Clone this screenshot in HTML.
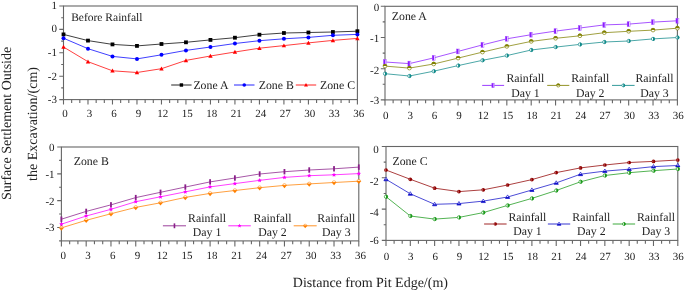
<!DOCTYPE html>
<html><head><meta charset="utf-8"><style>
html,body{margin:0;padding:0;background:#fff;}
body{width:685px;height:292px;overflow:hidden;}
svg{display:block;}
#w{width:685px;height:292px;will-change:transform;}
text{text-rendering:geometricPrecision;}
.t{font-family:"Liberation Serif", serif;font-size:11.0px;fill:#222;}
.l{font-family:"Liberation Serif", serif;font-size:11.8px;fill:#222;}
.a{font-family:"Liberation Serif", serif;font-size:14px;fill:#222;}
</style></head><body>
<div id="w"><svg width="685" height="292" viewBox="0 0 685 292">
<rect width="685" height="292" fill="#fff"/>
<g>
<rect x="63.5" y="6" width="293.9" height="93.6" fill="none" stroke="#666" stroke-width="1.1"/>
<path d="M63.5 99.6v5 M71.66 99.6v3.3 M79.83 99.6v3.3 M87.99 99.6v5 M96.16 99.6v3.3 M104.32 99.6v3.3 M112.48 99.6v5 M120.65 99.6v3.3 M128.81 99.6v3.3 M136.97 99.6v5 M145.14 99.6v3.3 M153.3 99.6v3.3 M161.47 99.6v5 M169.63 99.6v3.3 M177.79 99.6v3.3 M185.96 99.6v5 M194.12 99.6v3.3 M202.29 99.6v3.3 M210.45 99.6v5 M218.61 99.6v3.3 M226.78 99.6v3.3 M234.94 99.6v5 M243.11 99.6v3.3 M251.27 99.6v3.3 M259.43 99.6v5 M267.6 99.6v3.3 M275.76 99.6v3.3 M283.92 99.6v5 M292.09 99.6v3.3 M300.25 99.6v3.3 M308.42 99.6v5 M316.58 99.6v3.3 M324.74 99.6v3.3 M332.91 99.6v5 M341.07 99.6v3.3 M349.24 99.6v3.3 M357.4 99.6v5 M63.5 6h-4.2 M63.5 17.7h-2.3 M63.5 29.4h-4.2 M63.5 41.1h-2.3 M63.5 52.8h-4.2 M63.5 64.5h-2.3 M63.5 76.2h-4.2 M63.5 87.9h-2.3 M63.5 99.6h-4.2" stroke="#666" stroke-width="1.1" fill="none"/>
<text x="64.9" y="116.7" text-anchor="middle" class="t">0</text>
<text x="89.39" y="116.7" text-anchor="middle" class="t">3</text>
<text x="113.88" y="116.7" text-anchor="middle" class="t">6</text>
<text x="138.38" y="116.7" text-anchor="middle" class="t">9</text>
<text x="162.87" y="116.7" text-anchor="middle" class="t">12</text>
<text x="187.36" y="116.7" text-anchor="middle" class="t">15</text>
<text x="211.85" y="116.7" text-anchor="middle" class="t">18</text>
<text x="236.34" y="116.7" text-anchor="middle" class="t">21</text>
<text x="260.83" y="116.7" text-anchor="middle" class="t">24</text>
<text x="285.32" y="116.7" text-anchor="middle" class="t">27</text>
<text x="309.82" y="116.7" text-anchor="middle" class="t">30</text>
<text x="334.31" y="116.7" text-anchor="middle" class="t">33</text>
<text x="358.8" y="116.7" text-anchor="middle" class="t">36</text>
<text x="57" y="8.9" text-anchor="end" class="t">1</text>
<text x="57" y="32" text-anchor="end" class="t">0</text>
<text x="57" y="55.6" text-anchor="end" class="t">-1</text>
<text x="57" y="80.3" text-anchor="end" class="t">-2</text>
<text x="57" y="103.3" text-anchor="end" class="t">-3</text>
<rect x="385" y="6.3" width="292.4" height="93.6" fill="none" stroke="#666" stroke-width="1.1"/>
<path d="M385 99.9v5.5 M393.12 99.9v3.3 M401.24 99.9v3.3 M409.37 99.9v5.5 M417.49 99.9v3.3 M425.61 99.9v3.3 M433.73 99.9v5.5 M441.86 99.9v3.3 M449.98 99.9v3.3 M458.1 99.9v5.5 M466.22 99.9v3.3 M474.34 99.9v3.3 M482.47 99.9v5.5 M490.59 99.9v3.3 M498.71 99.9v3.3 M506.83 99.9v5.5 M514.96 99.9v3.3 M523.08 99.9v3.3 M531.2 99.9v5.5 M539.32 99.9v3.3 M547.44 99.9v3.3 M555.57 99.9v5.5 M563.69 99.9v3.3 M571.81 99.9v3.3 M579.93 99.9v5.5 M588.06 99.9v3.3 M596.18 99.9v3.3 M604.3 99.9v5.5 M612.42 99.9v3.3 M620.54 99.9v3.3 M628.67 99.9v5.5 M636.79 99.9v3.3 M644.91 99.9v3.3 M653.03 99.9v5.5 M661.16 99.9v3.3 M669.28 99.9v3.3 M677.4 99.9v5.5 M385 6.3h-4.2 M385 21.9h-2.3 M385 37.5h-4.2 M385 53.1h-2.3 M385 68.7h-4.2 M385 84.3h-2.3 M385 99.9h-4.2" stroke="#666" stroke-width="1.1" fill="none"/>
<text x="385.8" y="119.1" text-anchor="middle" class="t">0</text>
<text x="410.17" y="119.1" text-anchor="middle" class="t">3</text>
<text x="434.53" y="119.1" text-anchor="middle" class="t">6</text>
<text x="458.9" y="119.1" text-anchor="middle" class="t">9</text>
<text x="483.27" y="119.1" text-anchor="middle" class="t">12</text>
<text x="507.63" y="119.1" text-anchor="middle" class="t">15</text>
<text x="532" y="119.1" text-anchor="middle" class="t">18</text>
<text x="556.37" y="119.1" text-anchor="middle" class="t">21</text>
<text x="580.73" y="119.1" text-anchor="middle" class="t">24</text>
<text x="605.1" y="119.1" text-anchor="middle" class="t">27</text>
<text x="629.47" y="119.1" text-anchor="middle" class="t">30</text>
<text x="653.83" y="119.1" text-anchor="middle" class="t">33</text>
<text x="678.2" y="119.1" text-anchor="middle" class="t">36</text>
<text x="379.2" y="10.5" text-anchor="end" class="t">0</text>
<text x="379.2" y="42.4" text-anchor="end" class="t">-1</text>
<text x="379.2" y="73.9" text-anchor="end" class="t">-2</text>
<text x="379.2" y="104.2" text-anchor="end" class="t">-3</text>
<rect x="61.4" y="147" width="297.4" height="93.9" fill="none" stroke="#666" stroke-width="1.1"/>
<path d="M61.4 240.9v5.5 M69.66 240.9v3.3 M77.92 240.9v3.3 M86.18 240.9v5.5 M94.44 240.9v3.3 M102.71 240.9v3.3 M110.97 240.9v5.5 M119.23 240.9v3.3 M127.49 240.9v3.3 M135.75 240.9v5.5 M144.01 240.9v3.3 M152.27 240.9v3.3 M160.53 240.9v5.5 M168.79 240.9v3.3 M177.06 240.9v3.3 M185.32 240.9v5.5 M193.58 240.9v3.3 M201.84 240.9v3.3 M210.1 240.9v5.5 M218.36 240.9v3.3 M226.62 240.9v3.3 M234.88 240.9v5.5 M243.14 240.9v3.3 M251.41 240.9v3.3 M259.67 240.9v5.5 M267.93 240.9v3.3 M276.19 240.9v3.3 M284.45 240.9v5.5 M292.71 240.9v3.3 M300.97 240.9v3.3 M309.23 240.9v5.5 M317.49 240.9v3.3 M325.76 240.9v3.3 M334.02 240.9v5.5 M342.28 240.9v3.3 M350.54 240.9v3.3 M358.8 240.9v5.5 M61.4 147h-4.2 M61.4 160.41h-2.3 M61.4 173.83h-4.2 M61.4 187.24h-2.3 M61.4 200.66h-4.2 M61.4 214.07h-2.3 M61.4 227.49h-4.2 M61.4 240.9h-2.3" stroke="#666" stroke-width="1.1" fill="none"/>
<text x="63.2" y="259.3" text-anchor="middle" class="t">0</text>
<text x="87.98" y="259.3" text-anchor="middle" class="t">3</text>
<text x="112.77" y="259.3" text-anchor="middle" class="t">6</text>
<text x="137.55" y="259.3" text-anchor="middle" class="t">9</text>
<text x="162.33" y="259.3" text-anchor="middle" class="t">12</text>
<text x="187.12" y="259.3" text-anchor="middle" class="t">15</text>
<text x="211.9" y="259.3" text-anchor="middle" class="t">18</text>
<text x="236.68" y="259.3" text-anchor="middle" class="t">21</text>
<text x="261.47" y="259.3" text-anchor="middle" class="t">24</text>
<text x="286.25" y="259.3" text-anchor="middle" class="t">27</text>
<text x="311.03" y="259.3" text-anchor="middle" class="t">30</text>
<text x="335.82" y="259.3" text-anchor="middle" class="t">33</text>
<text x="360.6" y="259.3" text-anchor="middle" class="t">36</text>
<text x="54.6" y="151.35" text-anchor="end" class="t">0</text>
<text x="54.6" y="178.05" text-anchor="end" class="t">-1</text>
<text x="54.6" y="204.8" text-anchor="end" class="t">-2</text>
<text x="54.6" y="231.1" text-anchor="end" class="t">-3</text>
<rect x="386" y="146.5" width="291.8" height="93.9" fill="none" stroke="#666" stroke-width="1.1"/>
<path d="M386 240.4v5.5 M394.11 240.4v3.3 M402.21 240.4v3.3 M410.32 240.4v5.5 M418.42 240.4v3.3 M426.53 240.4v3.3 M434.63 240.4v5.5 M442.74 240.4v3.3 M450.84 240.4v3.3 M458.95 240.4v5.5 M467.06 240.4v3.3 M475.16 240.4v3.3 M483.27 240.4v5.5 M491.37 240.4v3.3 M499.48 240.4v3.3 M507.58 240.4v5.5 M515.69 240.4v3.3 M523.79 240.4v3.3 M531.9 240.4v5.5 M540.01 240.4v3.3 M548.11 240.4v3.3 M556.22 240.4v5.5 M564.32 240.4v3.3 M572.43 240.4v3.3 M580.53 240.4v5.5 M588.64 240.4v3.3 M596.74 240.4v3.3 M604.85 240.4v5.5 M612.96 240.4v3.3 M621.06 240.4v3.3 M629.17 240.4v5.5 M637.27 240.4v3.3 M645.38 240.4v3.3 M653.48 240.4v5.5 M661.59 240.4v3.3 M669.69 240.4v3.3 M677.8 240.4v5.5 M386 146.5h-4.2 M386 162.15h-2.3 M386 177.8h-4.2 M386 193.45h-2.3 M386 209.1h-4.2 M386 224.75h-2.3 M386 240.4h-4.2" stroke="#666" stroke-width="1.1" fill="none"/>
<text x="386.5" y="260.2" text-anchor="middle" class="t">0</text>
<text x="410.82" y="260.2" text-anchor="middle" class="t">3</text>
<text x="435.13" y="260.2" text-anchor="middle" class="t">6</text>
<text x="459.45" y="260.2" text-anchor="middle" class="t">9</text>
<text x="483.77" y="260.2" text-anchor="middle" class="t">12</text>
<text x="508.08" y="260.2" text-anchor="middle" class="t">15</text>
<text x="532.4" y="260.2" text-anchor="middle" class="t">18</text>
<text x="556.72" y="260.2" text-anchor="middle" class="t">21</text>
<text x="581.03" y="260.2" text-anchor="middle" class="t">24</text>
<text x="605.35" y="260.2" text-anchor="middle" class="t">27</text>
<text x="629.67" y="260.2" text-anchor="middle" class="t">30</text>
<text x="653.98" y="260.2" text-anchor="middle" class="t">33</text>
<text x="678.3" y="260.2" text-anchor="middle" class="t">36</text>
<text x="378.8" y="152.7" text-anchor="end" class="t">0</text>
<text x="378.8" y="184.6" text-anchor="end" class="t">-2</text>
<text x="378.8" y="216.3" text-anchor="end" class="t">-4</text>
<text x="378.8" y="244.3" text-anchor="end" class="t">-6</text>
<polyline points="63.5,34.4 87.99,40.6 112.48,44.4 136.97,45.9 161.47,44 185.96,42.3 210.45,39.9 234.94,37.7 259.43,34.7 283.92,33 308.42,32.5 332.91,32 357.4,31.2" fill="none" stroke="#000" stroke-width="1" stroke-opacity="0.75"/>
<rect x="61.6" y="32.5" width="3.8" height="3.8" fill="#000"/>
<rect x="86.09" y="38.7" width="3.8" height="3.8" fill="#000"/>
<rect x="110.58" y="42.5" width="3.8" height="3.8" fill="#000"/>
<rect x="135.07" y="44" width="3.8" height="3.8" fill="#000"/>
<rect x="159.57" y="42.1" width="3.8" height="3.8" fill="#000"/>
<rect x="184.06" y="40.4" width="3.8" height="3.8" fill="#000"/>
<rect x="208.55" y="38" width="3.8" height="3.8" fill="#000"/>
<rect x="233.04" y="35.8" width="3.8" height="3.8" fill="#000"/>
<rect x="257.53" y="32.8" width="3.8" height="3.8" fill="#000"/>
<rect x="282.02" y="31.1" width="3.8" height="3.8" fill="#000"/>
<rect x="306.52" y="30.6" width="3.8" height="3.8" fill="#000"/>
<rect x="331.01" y="30.1" width="3.8" height="3.8" fill="#000"/>
<rect x="355.5" y="29.3" width="3.8" height="3.8" fill="#000"/>
<polyline points="63.5,38.2 87.99,48.7 112.48,56.4 136.97,58.9 161.47,54.8 185.96,50.4 210.45,47 234.94,43.5 259.43,40.7 283.92,38.8 308.42,37.4 332.91,35.3 357.4,34.4" fill="none" stroke="#00f" stroke-width="1" stroke-opacity="0.75"/>
<circle cx="63.5" cy="38.2" r="2" fill="#00f"/>
<circle cx="87.99" cy="48.7" r="2" fill="#00f"/>
<circle cx="112.48" cy="56.4" r="2" fill="#00f"/>
<circle cx="136.97" cy="58.9" r="2" fill="#00f"/>
<circle cx="161.47" cy="54.8" r="2" fill="#00f"/>
<circle cx="185.96" cy="50.4" r="2" fill="#00f"/>
<circle cx="210.45" cy="47" r="2" fill="#00f"/>
<circle cx="234.94" cy="43.5" r="2" fill="#00f"/>
<circle cx="259.43" cy="40.7" r="2" fill="#00f"/>
<circle cx="283.92" cy="38.8" r="2" fill="#00f"/>
<circle cx="308.42" cy="37.4" r="2" fill="#00f"/>
<circle cx="332.91" cy="35.3" r="2" fill="#00f"/>
<circle cx="357.4" cy="34.4" r="2" fill="#00f"/>
<polyline points="63.5,47 87.99,61.7 112.48,70.8 136.97,72.5 161.47,68.7 185.96,60.4 210.45,56 234.94,52 259.43,48.2 283.92,45.6 308.42,42.9 332.91,40.4 357.4,38.4" fill="none" stroke="#f00" stroke-width="1" stroke-opacity="0.75"/>
<path d="M63.5 44.8L65.7 48.76L61.3 48.76Z" fill="#f00"/>
<path d="M87.99 59.5L90.19 63.46L85.79 63.46Z" fill="#f00"/>
<path d="M112.48 68.6L114.68 72.56L110.28 72.56Z" fill="#f00"/>
<path d="M136.97 70.3L139.17 74.26L134.78 74.26Z" fill="#f00"/>
<path d="M161.47 66.5L163.67 70.46L159.27 70.46Z" fill="#f00"/>
<path d="M185.96 58.2L188.16 62.16L183.76 62.16Z" fill="#f00"/>
<path d="M210.45 53.8L212.65 57.76L208.25 57.76Z" fill="#f00"/>
<path d="M234.94 49.8L237.14 53.76L232.74 53.76Z" fill="#f00"/>
<path d="M259.43 46L261.63 49.96L257.23 49.96Z" fill="#f00"/>
<path d="M283.92 43.4L286.12 47.36L281.72 47.36Z" fill="#f00"/>
<path d="M308.42 40.7L310.62 44.66L306.22 44.66Z" fill="#f00"/>
<path d="M332.91 38.2L335.11 42.16L330.71 42.16Z" fill="#f00"/>
<path d="M357.4 36.2L359.6 40.16L355.2 40.16Z" fill="#f00"/>
<polyline points="385,62 409.37,63.6 433.73,57.9 458.1,51.4 482.47,44.9 506.83,38.8 531.2,34.7 555.57,31.1 579.93,28 604.3,24.9 628.67,24.1 653.03,22.1 677.4,20.8" fill="none" stroke="#8a1cff" stroke-width="1" stroke-opacity="0.75"/>
<rect x="383.55" y="59.6" width="2.9" height="4.8" fill="#fff" stroke="#8a1cff" stroke-width="0.6" stroke-opacity="0.6"/><rect x="383.55" y="59.6" width="1.89" height="4.8" fill="#8a1cff"/>
<rect x="407.92" y="61.2" width="2.9" height="4.8" fill="#fff" stroke="#8a1cff" stroke-width="0.6" stroke-opacity="0.6"/><rect x="407.92" y="61.2" width="1.89" height="4.8" fill="#8a1cff"/>
<rect x="432.28" y="55.5" width="2.9" height="4.8" fill="#fff" stroke="#8a1cff" stroke-width="0.6" stroke-opacity="0.6"/><rect x="432.28" y="55.5" width="1.89" height="4.8" fill="#8a1cff"/>
<rect x="456.65" y="49" width="2.9" height="4.8" fill="#fff" stroke="#8a1cff" stroke-width="0.6" stroke-opacity="0.6"/><rect x="456.65" y="49" width="1.89" height="4.8" fill="#8a1cff"/>
<rect x="481.02" y="42.5" width="2.9" height="4.8" fill="#fff" stroke="#8a1cff" stroke-width="0.6" stroke-opacity="0.6"/><rect x="481.02" y="42.5" width="1.89" height="4.8" fill="#8a1cff"/>
<rect x="505.38" y="36.4" width="2.9" height="4.8" fill="#fff" stroke="#8a1cff" stroke-width="0.6" stroke-opacity="0.6"/><rect x="505.38" y="36.4" width="1.89" height="4.8" fill="#8a1cff"/>
<rect x="529.75" y="32.3" width="2.9" height="4.8" fill="#fff" stroke="#8a1cff" stroke-width="0.6" stroke-opacity="0.6"/><rect x="529.75" y="32.3" width="1.89" height="4.8" fill="#8a1cff"/>
<rect x="554.12" y="28.7" width="2.9" height="4.8" fill="#fff" stroke="#8a1cff" stroke-width="0.6" stroke-opacity="0.6"/><rect x="554.12" y="28.7" width="1.89" height="4.8" fill="#8a1cff"/>
<rect x="578.48" y="25.6" width="2.9" height="4.8" fill="#fff" stroke="#8a1cff" stroke-width="0.6" stroke-opacity="0.6"/><rect x="578.48" y="25.6" width="1.89" height="4.8" fill="#8a1cff"/>
<rect x="602.85" y="22.5" width="2.9" height="4.8" fill="#fff" stroke="#8a1cff" stroke-width="0.6" stroke-opacity="0.6"/><rect x="602.85" y="22.5" width="1.89" height="4.8" fill="#8a1cff"/>
<rect x="627.22" y="21.7" width="2.9" height="4.8" fill="#fff" stroke="#8a1cff" stroke-width="0.6" stroke-opacity="0.6"/><rect x="627.22" y="21.7" width="1.89" height="4.8" fill="#8a1cff"/>
<rect x="651.58" y="19.7" width="2.9" height="4.8" fill="#fff" stroke="#8a1cff" stroke-width="0.6" stroke-opacity="0.6"/><rect x="651.58" y="19.7" width="1.89" height="4.8" fill="#8a1cff"/>
<rect x="675.95" y="18.4" width="2.9" height="4.8" fill="#fff" stroke="#8a1cff" stroke-width="0.6" stroke-opacity="0.6"/><rect x="675.95" y="18.4" width="1.89" height="4.8" fill="#8a1cff"/>
<polyline points="385,66.1 409.37,68.1 433.73,64 458.1,58.1 482.47,52.1 506.83,46.4 531.2,41.4 555.57,38.3 579.93,35.8 604.3,32.7 628.67,31.3 653.03,30.1 677.4,28.2" fill="none" stroke="#808000" stroke-width="1" stroke-opacity="0.75"/>
<circle cx="385" cy="66.1" r="1.85" fill="#fff" stroke="#808000" stroke-width="0.7"/><path d="M382.8 66.1A2.2 2.2 0 0 1 387.2 66.1Z" fill="#808000"/>
<circle cx="409.37" cy="68.1" r="1.85" fill="#fff" stroke="#808000" stroke-width="0.7"/><path d="M407.17 68.1A2.2 2.2 0 0 1 411.57 68.1Z" fill="#808000"/>
<circle cx="433.73" cy="64" r="1.85" fill="#fff" stroke="#808000" stroke-width="0.7"/><path d="M431.53 64A2.2 2.2 0 0 1 435.93 64Z" fill="#808000"/>
<circle cx="458.1" cy="58.1" r="1.85" fill="#fff" stroke="#808000" stroke-width="0.7"/><path d="M455.9 58.1A2.2 2.2 0 0 1 460.3 58.1Z" fill="#808000"/>
<circle cx="482.47" cy="52.1" r="1.85" fill="#fff" stroke="#808000" stroke-width="0.7"/><path d="M480.27 52.1A2.2 2.2 0 0 1 484.67 52.1Z" fill="#808000"/>
<circle cx="506.83" cy="46.4" r="1.85" fill="#fff" stroke="#808000" stroke-width="0.7"/><path d="M504.63 46.4A2.2 2.2 0 0 1 509.03 46.4Z" fill="#808000"/>
<circle cx="531.2" cy="41.4" r="1.85" fill="#fff" stroke="#808000" stroke-width="0.7"/><path d="M529 41.4A2.2 2.2 0 0 1 533.4 41.4Z" fill="#808000"/>
<circle cx="555.57" cy="38.3" r="1.85" fill="#fff" stroke="#808000" stroke-width="0.7"/><path d="M553.37 38.3A2.2 2.2 0 0 1 557.77 38.3Z" fill="#808000"/>
<circle cx="579.93" cy="35.8" r="1.85" fill="#fff" stroke="#808000" stroke-width="0.7"/><path d="M577.73 35.8A2.2 2.2 0 0 1 582.13 35.8Z" fill="#808000"/>
<circle cx="604.3" cy="32.7" r="1.85" fill="#fff" stroke="#808000" stroke-width="0.7"/><path d="M602.1 32.7A2.2 2.2 0 0 1 606.5 32.7Z" fill="#808000"/>
<circle cx="628.67" cy="31.3" r="1.85" fill="#fff" stroke="#808000" stroke-width="0.7"/><path d="M626.47 31.3A2.2 2.2 0 0 1 630.87 31.3Z" fill="#808000"/>
<circle cx="653.03" cy="30.1" r="1.85" fill="#fff" stroke="#808000" stroke-width="0.7"/><path d="M650.83 30.1A2.2 2.2 0 0 1 655.23 30.1Z" fill="#808000"/>
<circle cx="677.4" cy="28.2" r="1.85" fill="#fff" stroke="#808000" stroke-width="0.7"/><path d="M675.2 28.2A2.2 2.2 0 0 1 679.6 28.2Z" fill="#808000"/>
<polyline points="385,73.7 409.37,76 433.73,71.2 458.1,65.6 482.47,60.3 506.83,55.6 531.2,50 555.57,47.1 579.93,44.4 604.3,42 628.67,41 653.03,38.9 677.4,37.5" fill="none" stroke="#108a8a" stroke-width="1" stroke-opacity="0.75"/>
<circle cx="385" cy="73.7" r="1.65" fill="#fff" stroke="#108a8a" stroke-width="0.7"/><path d="M385 71.7A2 2 0 0 1 385 75.7Z" fill="#108a8a"/>
<circle cx="409.37" cy="76" r="1.65" fill="#fff" stroke="#108a8a" stroke-width="0.7"/><path d="M409.37 74A2 2 0 0 1 409.37 78Z" fill="#108a8a"/>
<circle cx="433.73" cy="71.2" r="1.65" fill="#fff" stroke="#108a8a" stroke-width="0.7"/><path d="M433.73 69.2A2 2 0 0 1 433.73 73.2Z" fill="#108a8a"/>
<circle cx="458.1" cy="65.6" r="1.65" fill="#fff" stroke="#108a8a" stroke-width="0.7"/><path d="M458.1 63.6A2 2 0 0 1 458.1 67.6Z" fill="#108a8a"/>
<circle cx="482.47" cy="60.3" r="1.65" fill="#fff" stroke="#108a8a" stroke-width="0.7"/><path d="M482.47 58.3A2 2 0 0 1 482.47 62.3Z" fill="#108a8a"/>
<circle cx="506.83" cy="55.6" r="1.65" fill="#fff" stroke="#108a8a" stroke-width="0.7"/><path d="M506.83 53.6A2 2 0 0 1 506.83 57.6Z" fill="#108a8a"/>
<circle cx="531.2" cy="50" r="1.65" fill="#fff" stroke="#108a8a" stroke-width="0.7"/><path d="M531.2 48A2 2 0 0 1 531.2 52Z" fill="#108a8a"/>
<circle cx="555.57" cy="47.1" r="1.65" fill="#fff" stroke="#108a8a" stroke-width="0.7"/><path d="M555.57 45.1A2 2 0 0 1 555.57 49.1Z" fill="#108a8a"/>
<circle cx="579.93" cy="44.4" r="1.65" fill="#fff" stroke="#108a8a" stroke-width="0.7"/><path d="M579.93 42.4A2 2 0 0 1 579.93 46.4Z" fill="#108a8a"/>
<circle cx="604.3" cy="42" r="1.65" fill="#fff" stroke="#108a8a" stroke-width="0.7"/><path d="M604.3 40A2 2 0 0 1 604.3 44Z" fill="#108a8a"/>
<circle cx="628.67" cy="41" r="1.65" fill="#fff" stroke="#108a8a" stroke-width="0.7"/><path d="M628.67 39A2 2 0 0 1 628.67 43Z" fill="#108a8a"/>
<circle cx="653.03" cy="38.9" r="1.65" fill="#fff" stroke="#108a8a" stroke-width="0.7"/><path d="M653.03 36.9A2 2 0 0 1 653.03 40.9Z" fill="#108a8a"/>
<circle cx="677.4" cy="37.5" r="1.65" fill="#fff" stroke="#108a8a" stroke-width="0.7"/><path d="M677.4 35.5A2 2 0 0 1 677.4 39.5Z" fill="#108a8a"/>
<polyline points="61.4,219.2 86.18,211.4 110.97,204.85 135.75,197.6 160.53,192.3 185.32,187.05 210.1,181.9 234.88,178 259.67,174 284.45,171.7 309.23,170 334.02,168.8 358.8,167.1" fill="none" stroke="#8a1f8a" stroke-width="1" stroke-opacity="0.75"/>
<rect x="60.5" y="216.5" width="1.8" height="5.4" fill="#8a1f8a"/>
<rect x="85.28" y="208.7" width="1.8" height="5.4" fill="#8a1f8a"/>
<rect x="110.07" y="202.15" width="1.8" height="5.4" fill="#8a1f8a"/>
<rect x="134.85" y="194.9" width="1.8" height="5.4" fill="#8a1f8a"/>
<rect x="159.63" y="189.6" width="1.8" height="5.4" fill="#8a1f8a"/>
<rect x="184.42" y="184.35" width="1.8" height="5.4" fill="#8a1f8a"/>
<rect x="209.2" y="179.2" width="1.8" height="5.4" fill="#8a1f8a"/>
<rect x="233.98" y="175.3" width="1.8" height="5.4" fill="#8a1f8a"/>
<rect x="258.77" y="171.3" width="1.8" height="5.4" fill="#8a1f8a"/>
<rect x="283.55" y="169" width="1.8" height="5.4" fill="#8a1f8a"/>
<rect x="308.33" y="167.3" width="1.8" height="5.4" fill="#8a1f8a"/>
<rect x="333.12" y="166.1" width="1.8" height="5.4" fill="#8a1f8a"/>
<rect x="357.9" y="164.4" width="1.8" height="5.4" fill="#8a1f8a"/>
<polyline points="61.4,224.2 86.18,216 110.97,209.3 135.75,201.7 160.53,196.8 185.32,191.85 210.1,186.9 234.88,183.6 259.67,180.35 284.45,177.4 309.23,175.7 334.02,174.8 358.8,173.6" fill="none" stroke="#ff00ff" stroke-width="1" stroke-opacity="0.75"/>
<path d="M61.4 221.9L62.05 223.31L63.59 223.49L62.45 224.54L62.75 226.06L61.4 225.3L60.05 226.06L60.35 224.54L59.21 223.49L60.75 223.31Z" fill="#ff00ff"/>
<path d="M86.18 213.7L86.83 215.11L88.37 215.29L87.23 216.34L87.54 217.86L86.18 217.1L84.83 217.86L85.14 216.34L84 215.29L85.54 215.11Z" fill="#ff00ff"/>
<path d="M110.97 207L111.61 208.41L113.15 208.59L112.01 209.64L112.32 211.16L110.97 210.4L109.61 211.16L109.92 209.64L108.78 208.59L110.32 208.41Z" fill="#ff00ff"/>
<path d="M135.75 199.4L136.4 200.81L137.94 200.99L136.8 202.04L137.1 203.56L135.75 202.8L134.4 203.56L134.7 202.04L133.56 200.99L135.1 200.81Z" fill="#ff00ff"/>
<path d="M160.53 194.5L161.18 195.91L162.72 196.09L161.58 197.14L161.89 198.66L160.53 197.9L159.18 198.66L159.49 197.14L158.35 196.09L159.89 195.91Z" fill="#ff00ff"/>
<path d="M185.32 189.55L185.96 190.96L187.5 191.14L186.36 192.19L186.67 193.71L185.32 192.95L183.96 193.71L184.27 192.19L183.13 191.14L184.67 190.96Z" fill="#ff00ff"/>
<path d="M210.1 184.6L210.75 186.01L212.29 186.19L211.15 187.24L211.45 188.76L210.1 188L208.75 188.76L209.05 187.24L207.91 186.19L209.45 186.01Z" fill="#ff00ff"/>
<path d="M234.88 181.3L235.53 182.71L237.07 182.89L235.93 183.94L236.24 185.46L234.88 184.7L233.53 185.46L233.84 183.94L232.7 182.89L234.24 182.71Z" fill="#ff00ff"/>
<path d="M259.67 178.05L260.31 179.46L261.85 179.64L260.71 180.69L261.02 182.21L259.67 181.45L258.31 182.21L258.62 180.69L257.48 179.64L259.02 179.46Z" fill="#ff00ff"/>
<path d="M284.45 175.1L285.1 176.51L286.64 176.69L285.5 177.74L285.8 179.26L284.45 178.5L283.1 179.26L283.4 177.74L282.26 176.69L283.8 176.51Z" fill="#ff00ff"/>
<path d="M309.23 173.4L309.88 174.81L311.42 174.99L310.28 176.04L310.59 177.56L309.23 176.8L307.88 177.56L308.19 176.04L307.05 174.99L308.59 174.81Z" fill="#ff00ff"/>
<path d="M334.02 172.5L334.66 173.91L336.2 174.09L335.06 175.14L335.37 176.66L334.02 175.9L332.66 176.66L332.97 175.14L331.83 174.09L333.37 173.91Z" fill="#ff00ff"/>
<path d="M358.8 171.3L359.45 172.71L360.99 172.89L359.85 173.94L360.15 175.46L358.8 174.7L357.45 175.46L357.75 173.94L356.61 172.89L358.15 172.71Z" fill="#ff00ff"/>
<polyline points="61.4,227.9 86.18,220.3 110.97,213.75 135.75,207.4 160.53,202.8 185.32,197.4 210.1,193.4 234.88,190.5 259.67,187.7 284.45,185.4 309.23,183.9 334.02,182.5 358.8,181.2" fill="none" stroke="#ff8000" stroke-width="1" stroke-opacity="0.75"/>
<path d="M59.6 227.9A1.8 1.8 0 0 1 63.2 227.9Z" fill="#fff" stroke="#ff8000" stroke-width="0.55"/><path d="M58.9 227.7L63.9 227.7L61.4 230.65Z" fill="#ff8000"/>
<path d="M84.38 220.3A1.8 1.8 0 0 1 87.98 220.3Z" fill="#fff" stroke="#ff8000" stroke-width="0.55"/><path d="M83.68 220.1L88.68 220.1L86.18 223.05Z" fill="#ff8000"/>
<path d="M109.17 213.75A1.8 1.8 0 0 1 112.77 213.75Z" fill="#fff" stroke="#ff8000" stroke-width="0.55"/><path d="M108.47 213.55L113.47 213.55L110.97 216.5Z" fill="#ff8000"/>
<path d="M133.95 207.4A1.8 1.8 0 0 1 137.55 207.4Z" fill="#fff" stroke="#ff8000" stroke-width="0.55"/><path d="M133.25 207.2L138.25 207.2L135.75 210.15Z" fill="#ff8000"/>
<path d="M158.73 202.8A1.8 1.8 0 0 1 162.33 202.8Z" fill="#fff" stroke="#ff8000" stroke-width="0.55"/><path d="M158.03 202.6L163.03 202.6L160.53 205.55Z" fill="#ff8000"/>
<path d="M183.52 197.4A1.8 1.8 0 0 1 187.12 197.4Z" fill="#fff" stroke="#ff8000" stroke-width="0.55"/><path d="M182.82 197.2L187.82 197.2L185.32 200.15Z" fill="#ff8000"/>
<path d="M208.3 193.4A1.8 1.8 0 0 1 211.9 193.4Z" fill="#fff" stroke="#ff8000" stroke-width="0.55"/><path d="M207.6 193.2L212.6 193.2L210.1 196.15Z" fill="#ff8000"/>
<path d="M233.08 190.5A1.8 1.8 0 0 1 236.68 190.5Z" fill="#fff" stroke="#ff8000" stroke-width="0.55"/><path d="M232.38 190.3L237.38 190.3L234.88 193.25Z" fill="#ff8000"/>
<path d="M257.87 187.7A1.8 1.8 0 0 1 261.47 187.7Z" fill="#fff" stroke="#ff8000" stroke-width="0.55"/><path d="M257.17 187.5L262.17 187.5L259.67 190.45Z" fill="#ff8000"/>
<path d="M282.65 185.4A1.8 1.8 0 0 1 286.25 185.4Z" fill="#fff" stroke="#ff8000" stroke-width="0.55"/><path d="M281.95 185.2L286.95 185.2L284.45 188.15Z" fill="#ff8000"/>
<path d="M307.43 183.9A1.8 1.8 0 0 1 311.03 183.9Z" fill="#fff" stroke="#ff8000" stroke-width="0.55"/><path d="M306.73 183.7L311.73 183.7L309.23 186.65Z" fill="#ff8000"/>
<path d="M332.22 182.5A1.8 1.8 0 0 1 335.82 182.5Z" fill="#fff" stroke="#ff8000" stroke-width="0.55"/><path d="M331.52 182.3L336.52 182.3L334.02 185.25Z" fill="#ff8000"/>
<path d="M357 181.2A1.8 1.8 0 0 1 360.6 181.2Z" fill="#fff" stroke="#ff8000" stroke-width="0.55"/><path d="M356.3 181L361.3 181L358.8 183.95Z" fill="#ff8000"/>
<polyline points="386,170 410.32,179.3 434.63,188.2 458.95,191.6 483.27,189.8 507.58,185 531.9,179.6 556.22,172.6 580.53,167.9 604.85,165 629.17,162.5 653.48,161.4 677.8,160" fill="none" stroke="#900000" stroke-width="1" stroke-opacity="0.75"/>
<circle cx="386" cy="170" r="1.85" fill="#900000"/><path d="M385.8 168.34A1.85 1.85 0 0 0 385.8 171.66" fill="#fff" fill-opacity="0.35"/>
<circle cx="410.32" cy="179.3" r="1.85" fill="#900000"/><path d="M410.12 177.64A1.85 1.85 0 0 0 410.12 180.97" fill="#fff" fill-opacity="0.35"/>
<circle cx="434.63" cy="188.2" r="1.85" fill="#900000"/><path d="M434.43 186.53A1.85 1.85 0 0 0 434.43 189.86" fill="#fff" fill-opacity="0.35"/>
<circle cx="458.95" cy="191.6" r="1.85" fill="#900000"/><path d="M458.75 189.94A1.85 1.85 0 0 0 458.75 193.26" fill="#fff" fill-opacity="0.35"/>
<circle cx="483.27" cy="189.8" r="1.85" fill="#900000"/><path d="M483.07 188.14A1.85 1.85 0 0 0 483.07 191.47" fill="#fff" fill-opacity="0.35"/>
<circle cx="507.58" cy="185" r="1.85" fill="#900000"/><path d="M507.38 183.34A1.85 1.85 0 0 0 507.38 186.66" fill="#fff" fill-opacity="0.35"/>
<circle cx="531.9" cy="179.6" r="1.85" fill="#900000"/><path d="M531.7 177.94A1.85 1.85 0 0 0 531.7 181.26" fill="#fff" fill-opacity="0.35"/>
<circle cx="556.22" cy="172.6" r="1.85" fill="#900000"/><path d="M556.02 170.94A1.85 1.85 0 0 0 556.02 174.26" fill="#fff" fill-opacity="0.35"/>
<circle cx="580.53" cy="167.9" r="1.85" fill="#900000"/><path d="M580.33 166.24A1.85 1.85 0 0 0 580.33 169.56" fill="#fff" fill-opacity="0.35"/>
<circle cx="604.85" cy="165" r="1.85" fill="#900000"/><path d="M604.65 163.34A1.85 1.85 0 0 0 604.65 166.66" fill="#fff" fill-opacity="0.35"/>
<circle cx="629.17" cy="162.5" r="1.85" fill="#900000"/><path d="M628.97 160.84A1.85 1.85 0 0 0 628.97 164.16" fill="#fff" fill-opacity="0.35"/>
<circle cx="653.48" cy="161.4" r="1.85" fill="#900000"/><path d="M653.28 159.74A1.85 1.85 0 0 0 653.28 163.06" fill="#fff" fill-opacity="0.35"/>
<circle cx="677.8" cy="160" r="1.85" fill="#900000"/><path d="M677.6 158.34A1.85 1.85 0 0 0 677.6 161.66" fill="#fff" fill-opacity="0.35"/>
<polyline points="386,179.3 410.32,193.8 434.63,204.3 458.95,203.6 483.27,201.1 507.58,197 531.9,190 556.22,182.9 580.53,174.2 604.85,171.1 629.17,169.2 653.48,166.6 677.8,165.5" fill="none" stroke="#1010c8" stroke-width="1" stroke-opacity="0.75"/>
<path d="M386 177.2L388.1 180.77L383.9 180.77Z" fill="#fff" stroke="#1010c8" stroke-width="0.7"/><path d="M384.43 179.2L387.57 179.2L388.1 180.77L383.9 180.77Z" fill="#1010c8"/>
<path d="M410.32 191.7L412.42 195.27L408.22 195.27Z" fill="#fff" stroke="#1010c8" stroke-width="0.7"/><path d="M408.74 193.7L411.89 193.7L412.42 195.27L408.22 195.27Z" fill="#1010c8"/>
<path d="M434.63 202.2L436.73 205.77L432.53 205.77Z" fill="#fff" stroke="#1010c8" stroke-width="0.7"/><path d="M433.06 204.2L436.21 204.2L436.73 205.77L432.53 205.77Z" fill="#1010c8"/>
<path d="M458.95 201.5L461.05 205.07L456.85 205.07Z" fill="#fff" stroke="#1010c8" stroke-width="0.7"/><path d="M457.38 203.5L460.52 203.5L461.05 205.07L456.85 205.07Z" fill="#1010c8"/>
<path d="M483.27 199L485.37 202.57L481.17 202.57Z" fill="#fff" stroke="#1010c8" stroke-width="0.7"/><path d="M481.69 201L484.84 201L485.37 202.57L481.17 202.57Z" fill="#1010c8"/>
<path d="M507.58 194.9L509.68 198.47L505.48 198.47Z" fill="#fff" stroke="#1010c8" stroke-width="0.7"/><path d="M506.01 196.9L509.16 196.9L509.68 198.47L505.48 198.47Z" fill="#1010c8"/>
<path d="M531.9 187.9L534 191.47L529.8 191.47Z" fill="#fff" stroke="#1010c8" stroke-width="0.7"/><path d="M530.32 189.9L533.48 189.9L534 191.47L529.8 191.47Z" fill="#1010c8"/>
<path d="M556.22 180.8L558.32 184.37L554.12 184.37Z" fill="#fff" stroke="#1010c8" stroke-width="0.7"/><path d="M554.64 182.8L557.79 182.8L558.32 184.37L554.12 184.37Z" fill="#1010c8"/>
<path d="M580.53 172.1L582.63 175.67L578.43 175.67Z" fill="#fff" stroke="#1010c8" stroke-width="0.7"/><path d="M578.96 174.1L582.11 174.1L582.63 175.67L578.43 175.67Z" fill="#1010c8"/>
<path d="M604.85 169L606.95 172.57L602.75 172.57Z" fill="#fff" stroke="#1010c8" stroke-width="0.7"/><path d="M603.27 171L606.42 171L606.95 172.57L602.75 172.57Z" fill="#1010c8"/>
<path d="M629.17 167.1L631.27 170.67L627.07 170.67Z" fill="#fff" stroke="#1010c8" stroke-width="0.7"/><path d="M627.59 169.1L630.74 169.1L631.27 170.67L627.07 170.67Z" fill="#1010c8"/>
<path d="M653.48 164.5L655.58 168.07L651.38 168.07Z" fill="#fff" stroke="#1010c8" stroke-width="0.7"/><path d="M651.91 166.5L655.06 166.5L655.58 168.07L651.38 168.07Z" fill="#1010c8"/>
<path d="M677.8 163.4L679.9 166.97L675.7 166.97Z" fill="#fff" stroke="#1010c8" stroke-width="0.7"/><path d="M676.22 165.4L679.38 165.4L679.9 166.97L675.7 166.97Z" fill="#1010c8"/>
<polyline points="386,196.7 410.32,216 434.63,219.1 458.95,217.4 483.27,212.6 507.58,205.4 531.9,198.4 556.22,190.5 580.53,181.8 604.85,175.5 629.17,172.7 653.48,170.7 677.8,169" fill="none" stroke="#1a9a1a" stroke-width="1" stroke-opacity="0.75"/>
<circle cx="386" cy="196.7" r="1.65" fill="#fff" stroke="#1a9a1a" stroke-width="0.7"/><path d="M386 194.7A2 2 0 0 1 386 198.7Z" fill="#1a9a1a"/>
<circle cx="410.32" cy="216" r="1.65" fill="#fff" stroke="#1a9a1a" stroke-width="0.7"/><path d="M410.32 214A2 2 0 0 1 410.32 218Z" fill="#1a9a1a"/>
<circle cx="434.63" cy="219.1" r="1.65" fill="#fff" stroke="#1a9a1a" stroke-width="0.7"/><path d="M434.63 217.1A2 2 0 0 1 434.63 221.1Z" fill="#1a9a1a"/>
<circle cx="458.95" cy="217.4" r="1.65" fill="#fff" stroke="#1a9a1a" stroke-width="0.7"/><path d="M458.95 215.4A2 2 0 0 1 458.95 219.4Z" fill="#1a9a1a"/>
<circle cx="483.27" cy="212.6" r="1.65" fill="#fff" stroke="#1a9a1a" stroke-width="0.7"/><path d="M483.27 210.6A2 2 0 0 1 483.27 214.6Z" fill="#1a9a1a"/>
<circle cx="507.58" cy="205.4" r="1.65" fill="#fff" stroke="#1a9a1a" stroke-width="0.7"/><path d="M507.58 203.4A2 2 0 0 1 507.58 207.4Z" fill="#1a9a1a"/>
<circle cx="531.9" cy="198.4" r="1.65" fill="#fff" stroke="#1a9a1a" stroke-width="0.7"/><path d="M531.9 196.4A2 2 0 0 1 531.9 200.4Z" fill="#1a9a1a"/>
<circle cx="556.22" cy="190.5" r="1.65" fill="#fff" stroke="#1a9a1a" stroke-width="0.7"/><path d="M556.22 188.5A2 2 0 0 1 556.22 192.5Z" fill="#1a9a1a"/>
<circle cx="580.53" cy="181.8" r="1.65" fill="#fff" stroke="#1a9a1a" stroke-width="0.7"/><path d="M580.53 179.8A2 2 0 0 1 580.53 183.8Z" fill="#1a9a1a"/>
<circle cx="604.85" cy="175.5" r="1.65" fill="#fff" stroke="#1a9a1a" stroke-width="0.7"/><path d="M604.85 173.5A2 2 0 0 1 604.85 177.5Z" fill="#1a9a1a"/>
<circle cx="629.17" cy="172.7" r="1.65" fill="#fff" stroke="#1a9a1a" stroke-width="0.7"/><path d="M629.17 170.7A2 2 0 0 1 629.17 174.7Z" fill="#1a9a1a"/>
<circle cx="653.48" cy="170.7" r="1.65" fill="#fff" stroke="#1a9a1a" stroke-width="0.7"/><path d="M653.48 168.7A2 2 0 0 1 653.48 172.7Z" fill="#1a9a1a"/>
<circle cx="677.8" cy="169" r="1.65" fill="#fff" stroke="#1a9a1a" stroke-width="0.7"/><path d="M677.8 167A2 2 0 0 1 677.8 171Z" fill="#1a9a1a"/>
<text x="71.2" y="20.9" class="l" style="font-size:11.5px">Before Rainfall</text>
<text x="391.8" y="20.3" class="l">Zone A</text>
<text x="73.7" y="165.3" class="l">Zone B</text>
<text x="392.5" y="165.3" class="l">Zone C</text>
<path d="M171.2 85H191.6" stroke="#000" stroke-width="1" stroke-opacity="0.85"/>
<rect x="179.69" y="83.29" width="3.42" height="3.42" fill="#000"/>
<text x="193.4" y="88.9" class="l">Zone A</text>
<path d="M234 85H254.5" stroke="#00f" stroke-width="1" stroke-opacity="0.85"/>
<circle cx="244.25" cy="85" r="1.81" fill="#00f"/>
<text x="258.7" y="88.9" class="l">Zone B</text>
<path d="M295.8 85H316.2" stroke="#f00" stroke-width="1" stroke-opacity="0.85"/>
<path d="M306 83.02L307.98 86.58L304.02 86.58Z" fill="#f00"/>
<text x="320.0" y="88.9" class="l">Zone C</text>
<path d="M482.2 85.4H504.1" stroke="#8a1cff" stroke-width="1" stroke-opacity="0.85"/>
<rect x="491.84" y="83.24" width="2.61" height="4.32" fill="#fff" stroke="#8a1cff" stroke-width="0.6" stroke-opacity="0.6"/><rect x="491.84" y="83.24" width="1.7" height="4.32" fill="#8a1cff"/>
<text x="525.4" y="82.3" class="l" text-anchor="middle">Rainfall</text>
<text x="525.4" y="96.7" class="l" text-anchor="middle">Day 1</text>
<path d="M547.2 85.4H569.3" stroke="#808000" stroke-width="1" stroke-opacity="0.85"/>
<circle cx="558.25" cy="85.4" r="1.63" fill="#fff" stroke="#808000" stroke-width="0.7"/><path d="M556.27 85.4A1.98 1.98 0 0 1 560.23 85.4Z" fill="#808000"/>
<text x="590.2" y="82.3" class="l" text-anchor="middle">Rainfall</text>
<text x="590.2" y="96.7" class="l" text-anchor="middle">Day 2</text>
<path d="M612 85.4H634.6" stroke="#108a8a" stroke-width="1" stroke-opacity="0.85"/>
<circle cx="623.3" cy="85.4" r="1.45" fill="#fff" stroke="#108a8a" stroke-width="0.7"/><path d="M623.3 83.6A1.8 1.8 0 0 1 623.3 87.2Z" fill="#108a8a"/>
<text x="654.5" y="82.3" class="l" text-anchor="middle">Rainfall</text>
<text x="654.5" y="96.7" class="l" text-anchor="middle">Day 3</text>
<path d="M162.9 225.8H186" stroke="#8a1f8a" stroke-width="1" stroke-opacity="0.85"/>
<rect x="173.64" y="223.37" width="1.62" height="4.86" fill="#8a1f8a"/>
<text x="207.1" y="221.9" class="l" text-anchor="middle">Rainfall</text>
<text x="207.1" y="236.3" class="l" text-anchor="middle">Day 1</text>
<path d="M228.3 225.8H250.8" stroke="#ff00ff" stroke-width="1" stroke-opacity="0.85"/>
<path d="M239.55 223.73L240.13 225L241.52 225.16L240.49 226.11L240.77 227.47L239.55 226.79L238.33 227.47L238.61 226.11L237.58 225.16L238.97 225Z" fill="#ff00ff"/>
<text x="272.5" y="221.9" class="l" text-anchor="middle">Rainfall</text>
<text x="272.5" y="236.3" class="l" text-anchor="middle">Day 2</text>
<path d="M293.7 225.8H316.7" stroke="#ff8000" stroke-width="1" stroke-opacity="0.85"/>
<path d="M303.58 225.8A1.62 1.62 0 0 1 306.82 225.8Z" fill="#fff" stroke="#ff8000" stroke-width="0.55"/><path d="M302.95 225.6L307.45 225.6L305.2 228.28Z" fill="#ff8000"/>
<text x="336.3" y="221.9" class="l" text-anchor="middle">Rainfall</text>
<text x="336.3" y="236.3" class="l" text-anchor="middle">Day 3</text>
<path d="M484.1 224H506.6" stroke="#900000" stroke-width="1" stroke-opacity="0.85"/>
<circle cx="495.35" cy="224" r="1.67" fill="#900000"/><path d="M495.15 222.5A1.67 1.67 0 0 0 495.15 225.5" fill="#fff" fill-opacity="0.35"/>
<text x="527.4" y="220.9" class="l" text-anchor="middle">Rainfall</text>
<text x="527.4" y="235.3" class="l" text-anchor="middle">Day 1</text>
<path d="M547.9 224H570.2" stroke="#1010c8" stroke-width="1" stroke-opacity="0.85"/>
<path d="M559.05 222.11L560.94 225.32L557.16 225.32Z" fill="#fff" stroke="#1010c8" stroke-width="0.7"/><path d="M557.63 223.9L560.47 223.9L560.94 225.32L557.16 225.32Z" fill="#1010c8"/>
<text x="591.3" y="220.9" class="l" text-anchor="middle">Rainfall</text>
<text x="591.3" y="235.3" class="l" text-anchor="middle">Day 2</text>
<path d="M612.7 224H635.1" stroke="#1a9a1a" stroke-width="1" stroke-opacity="0.85"/>
<circle cx="623.9" cy="224" r="1.45" fill="#fff" stroke="#1a9a1a" stroke-width="0.7"/><path d="M623.9 222.2A1.8 1.8 0 0 1 623.9 225.8Z" fill="#1a9a1a"/>
<text x="656" y="220.9" class="l" text-anchor="middle">Rainfall</text>
<text x="656" y="235.3" class="l" text-anchor="middle">Day 3</text>
<text x="370.4" y="287.4" class="a" text-anchor="middle">Distance from Pit Edge/(m)</text>
<text transform="translate(11.1,123.4) rotate(-90)" class="a" text-anchor="middle">Surface Settlement Outside</text>
<text transform="translate(36.5,124.0) rotate(-90)" class="a" text-anchor="middle">the Excavation/(cm)</text>
</g>
</svg></div>
</body></html>
